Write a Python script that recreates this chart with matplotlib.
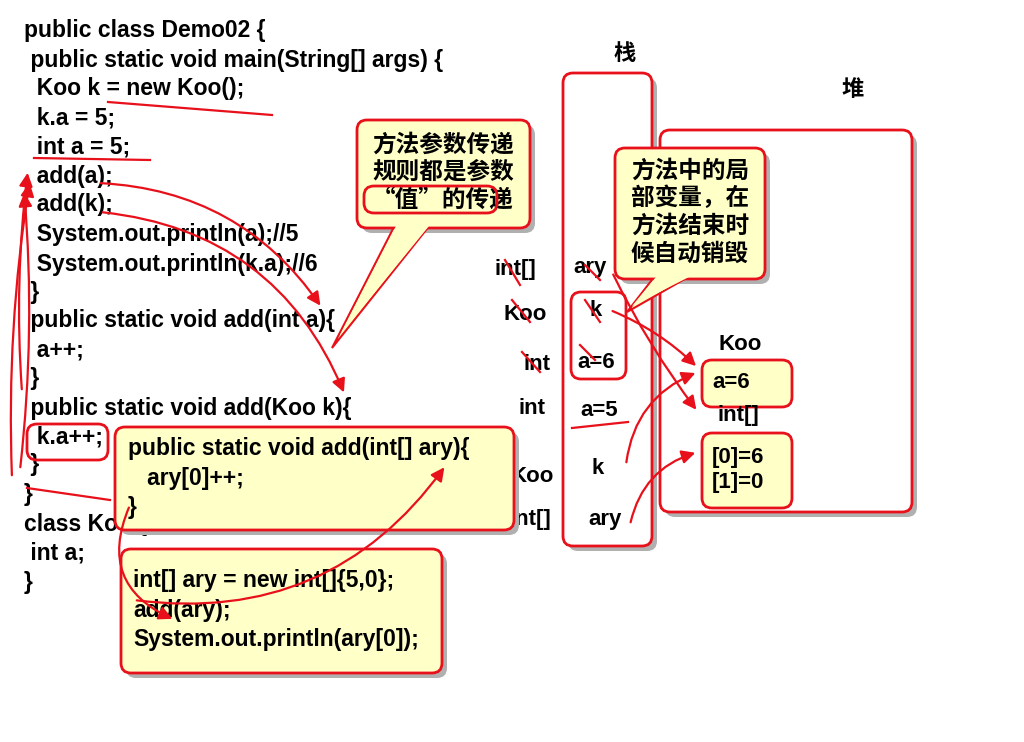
import matplotlib.pyplot as plt
from matplotlib.patches import FancyBboxPatch, FancyArrowPatch, Polygon

plt.rcParams['font.family'] = ['Liberation Sans', 'Noto Sans CJK SC', 'DejaVu Sans']

code_lines = ["public class Demo02 {", " public static void main(String[] args) {", "  Koo k = new Koo();",
              "  k.a = 5;", "  int a = 5;", "  add(a);", "  add(k);", "  System.out.println(a);//5",
              "  System.out.println(k.a);//6", " }", " public static void add(int a){", "  a++;", " }",
              " public static void add(Koo k){", "  k.a++;", " }", "}", "class Koo {", " int a;", "}"]
code_y = [30, 60, 89, 118, 147, 176, 205, 235, 264, 293, 321, 350, 379, 408, 437, 465, 495, 524, 553, 582]
stack_types = ["int[]", "Koo", "int", "int", "Koo", "int[]"]
stack_type_pos = [(515, 270), (525, 314), (537, 365), (532, 408), (532, 476), (530, 520)]
stack_vals = ["ary", "k", "a=6", "a=5", "k", "ary"]
stack_val_pos = [(590, 267), (596, 311), (596, 363), (599, 410), (598, 468), (605, 520)]
note1 = "方法参数传递\n规则都是参数\n“值”的传递"
note2 = "方法中的局\n部变量，在\n方法结束时\n候自动销毁"
box1 = "public static void add(int[] ary){\n   ary[0]++;\n}"
box2 = "int[] ary = new int[]{5,0};\nadd(ary);\nSystem.out.println(ary[0]);"

fig = plt.figure(figsize=(10.24, 7.42), dpi=100)
ax = fig.add_axes([0, 0, 1, 1])
ax.set_xlim(0, 1024)
ax.set_ylim(742, 0)
ax.axis('off')

RED = '#e8101a'
YEL = '#ffffc8'

def rbox(x0, y0, x1, y1, fc='white', ec=RED, lw=2, shadow=True, z=2):
    if shadow:
        ax.add_patch(FancyBboxPatch((x0 + 5, y0 + 5), x1 - x0, y1 - y0, boxstyle="round,pad=0,rounding_size=10",
                                    fc='#b0b0b0', ec='none', zorder=z - 0.5))
    ax.add_patch(FancyBboxPatch((x0, y0), x1 - x0, y1 - y0, boxstyle="round,pad=0,rounding_size=10",
                                fc=fc, ec=ec, lw=lw, zorder=z))

def arrow(p0, p1, rad=0.0, z=6):
    ax.add_patch(FancyArrowPatch(p0, p1, connectionstyle=f"arc3,rad={rad}", arrowstyle='-|>,head_length=8,head_width=4',
                                 color=RED, lw=1.6, zorder=z))

def line(xs, ys, z=6):
    ax.plot(xs, ys, color=RED, lw=1.6, zorder=z)

# code
for t, y in zip(code_lines, code_y):
    ax.text(24, y, t, fontsize=16.5, fontweight='bold', va='center', ha='left', zorder=3)

# stack & heap
rbox(563, 73, 652, 546)
ax.text(625, 53, "栈", fontsize=16, ha='center', va='center', fontweight='bold', family=['Noto Sans CJK SC'])
rbox(660, 130, 912, 512)
ax.text(853, 90, "堆", fontsize=16, ha='center', va='center', fontweight='bold', family=['Noto Sans CJK SC'])
for t, (x, y) in zip(stack_types, stack_type_pos):
    ax.text(x, y, t, fontsize=16, fontweight='bold', ha='center', va='center', zorder=1)
for t, (x, y) in zip(stack_vals, stack_val_pos):
    ax.text(x, y, t, fontsize=16, fontweight='bold', ha='center', va='center', zorder=4)
rbox(571, 292, 626, 379, fc='none', shadow=False, z=3)
ax.text(740, 344, "Koo", fontsize=16, fontweight='bold', ha='center', va='center')
rbox(702, 360, 792, 407, fc=YEL)
ax.text(712, 383, "a=6", fontsize=16, fontweight='bold', va='center', zorder=4)
ax.text(738, 416, "int[]", fontsize=16, fontweight='bold', ha='center', va='center')
rbox(702, 433, 792, 508, fc=YEL)
ax.text(712, 470, "[0]=6\n[1]=0", fontsize=16, fontweight='bold', va='center', linespacing=1.3, zorder=4)

# callouts
ax.add_patch(Polygon([(395, 225), (430, 225), (332, 348)], closed=True, fc=YEL, ec=RED, lw=1.5, zorder=4))
rbox(357, 120, 530, 228, fc=YEL, z=4)
ax.add_patch(Polygon([(396, 226), (429, 226), (340, 335)], closed=True, fc=YEL, ec='none', zorder=4.2))
ax.text(443, 172, note1, fontsize=17, ha='center', va='center', linespacing=1.2, zorder=5,
        fontweight='bold', family=['Noto Sans CJK SC'])
rbox(364, 186, 497, 213, fc='none', z=5, shadow=False)
ax.add_patch(Polygon([(655, 276), (690, 276), (627, 312)], closed=True, fc=YEL, ec=RED, lw=1.5, zorder=4))
rbox(615, 148, 765, 279, fc=YEL, z=4)
ax.add_patch(Polygon([(656, 277), (689, 277), (632, 306)], closed=True, fc=YEL, ec='none', zorder=4.2))
ax.text(690, 212, note2, fontsize=17, ha='center', va='center', linespacing=1.2, zorder=5,
        fontweight='bold', family=['Noto Sans CJK SC'])

# code boxes
rbox(115, 427, 514, 530, fc=YEL, z=4)
ax.text(128, 478, box1, fontsize=16.5, fontweight='bold', va='center', linespacing=1.35, zorder=5)
rbox(121, 549, 442, 673, fc=YEL, z=4)
ax.text(133, 610, box2, fontsize=16.5, fontweight='bold', va='center', linespacing=1.35, zorder=5)

# underlines and strokes
line([108, 272], [102, 115])
line([34, 150], [158, 160])
line([572, 628], [428, 422])
rbox(27, 424, 108, 460, fc='none', z=5, shadow=False)
for (x0, y0, x1, y1) in [(505, 260, 520, 285), (512, 300, 530, 322), (522, 352, 540, 372),
                         (585, 265, 600, 280), (585, 300, 600, 322), (580, 345, 595, 360)]:
    line([x0, x1], [y0, y1])

# arrows
arrow((98, 183), (322, 308), rad=-0.25)
arrow((100, 212), (345, 395), rad=-0.3)
arrow((22, 392), (28, 170), rad=-0.05)
arrow((20, 470), (24, 190), rad=0.05)
arrow((12, 478), (30, 180), rad=-0.05)
arrow((130, 505), (175, 620), rad=0.5)
arrow((134, 600), (446, 465), rad=0.3)
arrow((612, 272), (698, 412), rad=0.05)
arrow((610, 310), (698, 368), rad=-0.1)
arrow((626, 465), (698, 372), rad=-0.3)
arrow((630, 525), (698, 452), rad=-0.3)
line([27, 110], [488, 500])

fig.savefig("out.png", dpi=100)
